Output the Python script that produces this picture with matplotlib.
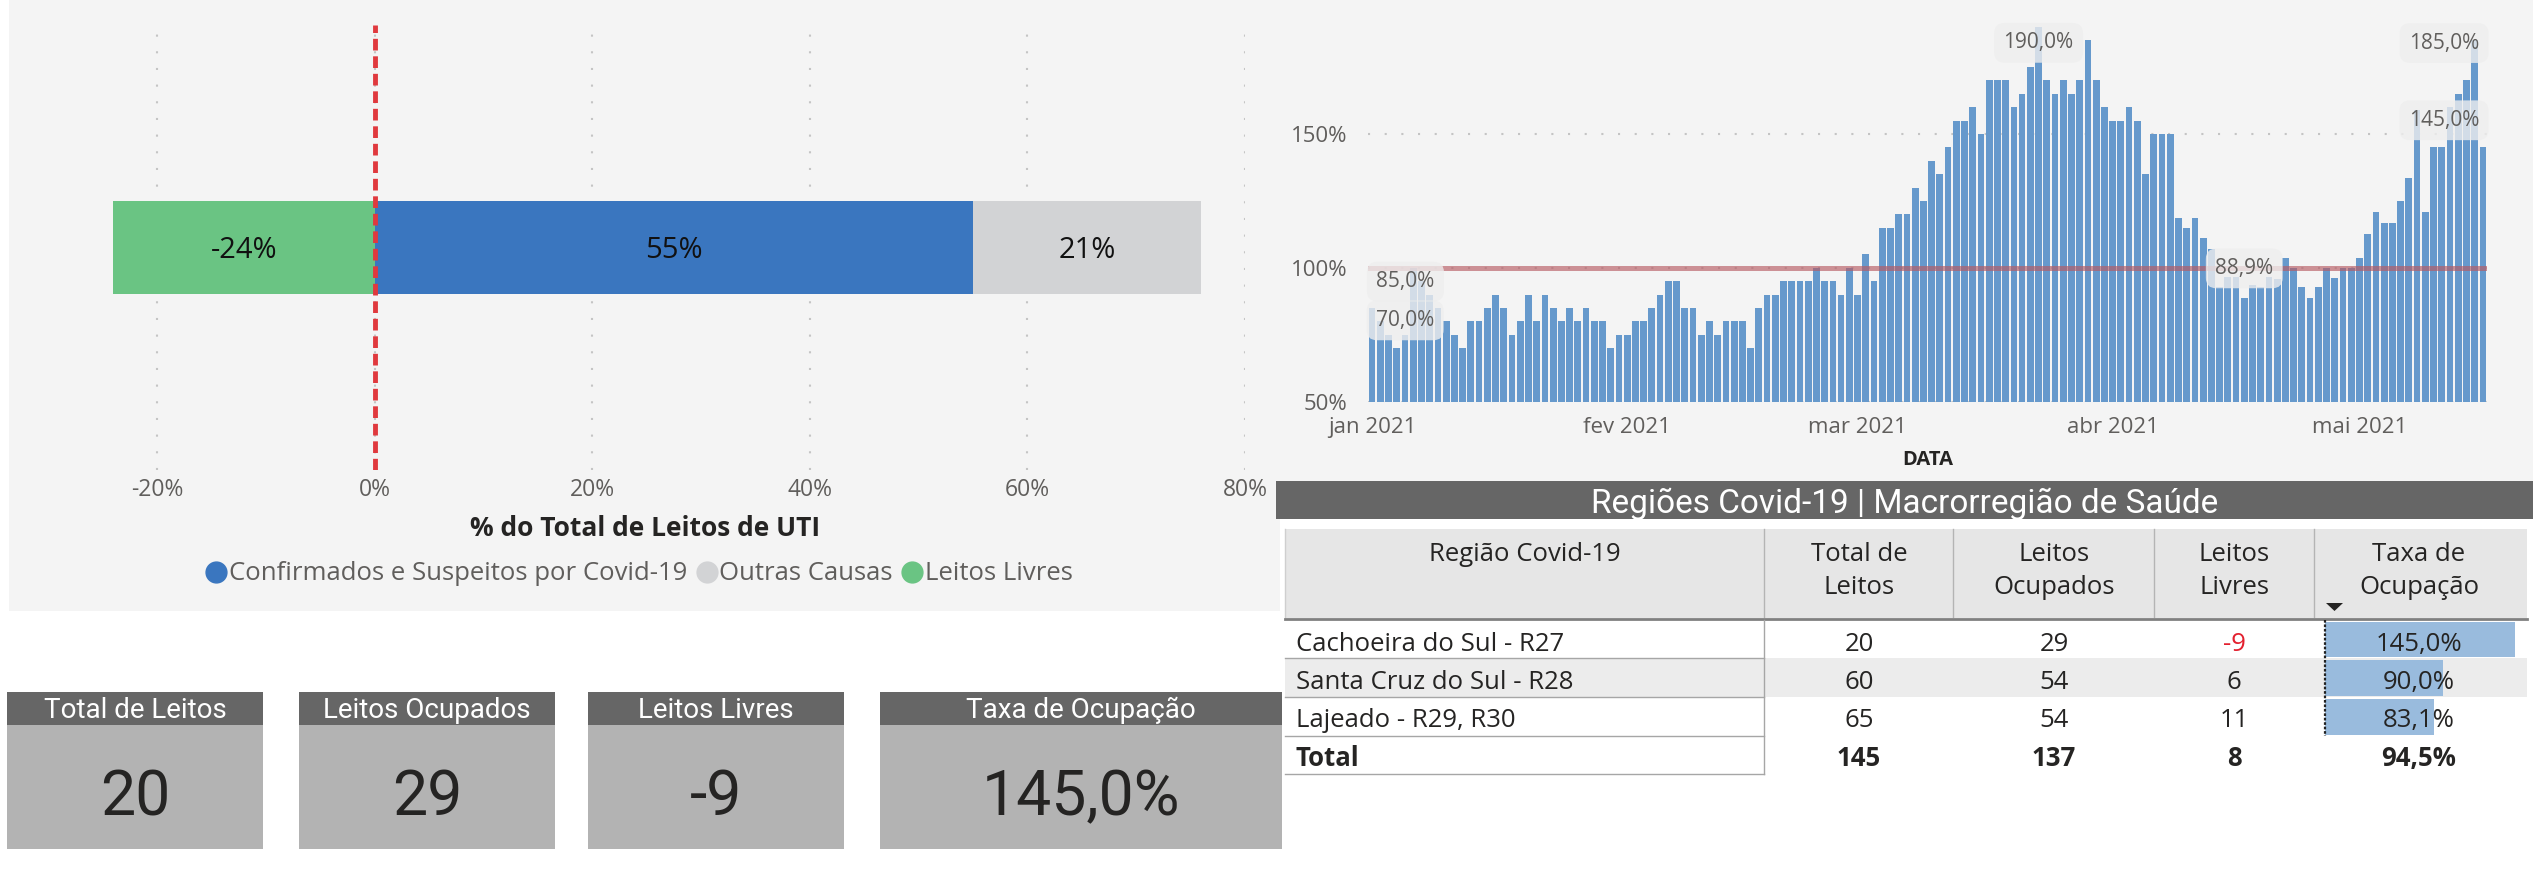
import matplotlib
matplotlib.use("Agg")
import matplotlib.pyplot as plt
import matplotlib.dates as mdates
from matplotlib.patches import Rectangle, Polygon
from matplotlib.lines import Line2D
from matplotlib.ticker import FuncFormatter
import pandas as pd

# ---- dados ----
# composição dos leitos de UTI (% do total)
comp_nomes = ["Confirmados e Suspeitos por Covid-19", "Outras Causas", "Leitos Livres"]
comp_valores = [55, 21, -24]
comp_cores = ["#3a76bf", "#d2d3d5", "#6ac483"]

# taxa de ocupação diária (%), a partir de 01/01/2021
taxa_inicio = "2021-01-01"
taxa_diaria = [
    85, 80, 75, 70, 75, 100, 95, 90, 85, 80, 75, 70, 80, 80, 85, 90, 85, 75, 80, 90,
    80, 90, 85, 80, 85, 80, 85, 80, 80, 70, 75, 75, 80, 80, 85, 90, 95, 95, 85, 85,
    75, 80, 75, 80, 80, 80, 70, 85, 90, 90, 95, 95, 95, 95, 100, 95, 95, 90, 100, 90,
    105, 95, 115, 115, 120, 120, 130, 125, 140, 135, 145, 155, 155, 160, 150, 170, 170, 170, 160, 165,
    175, 190, 170, 165, 170, 165, 170, 185, 170, 160, 155, 155, 160, 155, 135, 150, 150, 150, 118.6, 115,
    118.6, 111.1, 107, 92.8, 96.6, 96.6, 88.9, 93.5, 92.8, 96.6, 96, 103.5, 100, 92.8, 88.9, 92.8, 100, 96.3, 100, 100,
    103.8, 112.6, 120.9, 116.8, 116.8, 125, 133.6, 158.8, 120.9, 145, 145, 160, 165, 170, 185, 145,
]
rotulos_idx = [0, 3, 81, 106, 134, 135]
rotulos_off = [(24, 19), (6, 20), (0, -11.5), (0, 21), (-22, -2), (-28, 19.5)]
meses = ["jan", "fev", "mar", "abr", "mai", "jun", "jul", "ago", "set", "out", "nov", "dez"]

# tabela por região
regioes = ["Cachoeira do Sul - R27", "Santa Cruz do Sul - R28", "Lajeado - R29, R30"]
reg_total = [20, 60, 65]
reg_ocupados = [29, 54, 54]
reg_livres = [-9, 6, 11]
reg_taxa = [145.0, 90.0, 83.1]
cabecalhos = [["Região Covid-19"], ["Total de", "Leitos"], ["Leitos", "Ocupados"],
              ["Leitos", "Livres"], ["Taxa de", "Ocupação"]]

kpi_nomes = ["Total de Leitos", "Leitos Ocupados", "Leitos Livres", "Taxa de Ocupação"]


def pct(v):
    return f"{v:.1f}".replace(".", ",") + "%"


SEGOE = "Open Sans"
DIN = "Roboto"
TXT = "#252423"
TICK = "#605e5c"
PANEL = "#f4f4f4"

W, H = 2533, 869
fig = plt.figure(figsize=(W / 100, H / 100), dpi=100, facecolor="white")

# camada de fundo em pixels (origem no topo)
bg = fig.add_axes([0, 0, 1, 1], zorder=0)
bg.set_xlim(0, W)
bg.set_ylim(H, 0)
bg.axis("off")


def rect(x0, y0, x1, y1, color):
    bg.add_patch(Rectangle((x0, y0), x1 - x0, y1 - y0, facecolor=color, edgecolor="none"))


def px_axes(x0, y0, x1, y1):
    ax = fig.add_axes([x0 / W, 1 - y1 / H, (x1 - x0) / W, (y1 - y0) / H], zorder=1)
    ax.patch.set_alpha(0)
    for s in ax.spines.values():
        s.set_visible(False)
    return ax


rect(9, 0, 1280, 611, PANEL)
rect(1280, 0, W, 481, PANEL)

# ---- barra empilhada (% do total de leitos) ----
ax1 = px_axes(46, 25, 1245, 470)
covid, outras, livres = comp_valores
ax1.barh(0, covid, height=0.21, color=comp_cores[0], zorder=2)
ax1.barh(0, outras, left=covid, height=0.21, color=comp_cores[1], zorder=2)
ax1.barh(0, livres, height=0.21, color=comp_cores[2], zorder=2)
for xc, v in [(covid / 2, covid), (covid + outras / 2, outras), (livres / 2, livres)]:
    ax1.text(xc, 0, f"{v}%", ha="center", va="center_baseline", fontsize=21,
             color="#111111", family=SEGOE, zorder=4)
ax1.axvline(0, color="#e0393e", lw=3.5, ls=(0, (2.4, 1.2)), zorder=3)
ax1.set_xlim(-30.2, 80)
ax1.set_ylim(-0.5, 0.5)
ax1.set_xticks(range(-20, 81, 20))
ax1.set_xticklabels([f"{t}%" for t in range(-20, 81, 20)], family=SEGOE)
ax1.set_yticks([])
ax1.tick_params(axis="x", length=0, pad=6, labelsize=16.5, labelcolor=TICK)
ax1.grid(axis="x", ls=(0, (1, 7)), color="#c4c4c4", lw=1.5)
ax1.set_axisbelow(True)
ax1.set_xlabel("% do Total de Leitos de UTI", fontsize=19, fontweight="bold",
               color=TXT, family=SEGOE, labelpad=9)
handles = [Line2D([], [], marker="o", ls="", markersize=15, color=c) for c in comp_cores]
leg = ax1.legend(handles, comp_nomes, loc="center", bbox_to_anchor=(640 / W, 1 - 574 / H),
                 bbox_transform=fig.transFigure, ncol=3, frameon=False, handlelength=0.7,
                 handletextpad=0.15, columnspacing=0.4, prop={"family": SEGOE, "size": 18.5})
for t in leg.get_texts():
    t.set_color(TICK)

# ---- taxa de ocupação diária ----
ax2 = px_axes(1368, 13.5, 2487, 401.7)
datas = pd.date_range(taxa_inicio, periods=len(taxa_diaria), freq="D")
ax2.bar(datas, taxa_diaria, width=0.82, color="#6699cc", zorder=2)
ax2.axhline(100, color="#b75b63", alpha=0.65, lw=3.6, zorder=3)
ax2.set_xlim(datas[0] - pd.Timedelta(hours=12), datas[-1] + pd.Timedelta(hours=12))
ax2.set_ylim(50, 195)
ax2.set_yticks([50, 100, 150])
ax2.set_yticklabels([f"{t}%" for t in [50, 100, 150]], family=SEGOE)
ax2.xaxis.set_major_locator(mdates.MonthLocator())
ax2.xaxis.set_major_formatter(FuncFormatter(
    lambda x, pos: f"{meses[mdates.num2date(x).month - 1]} {mdates.num2date(x).year}"))
for lab in ax2.get_xticklabels():
    lab.set_family(SEGOE)
ax2.tick_params(axis="both", length=0, labelsize=16, labelcolor=TICK)
ax2.tick_params(axis="x", pad=11)
ax2.tick_params(axis="y", pad=15)
ax2.grid(axis="y", ls=(0, (1, 7)), color="#c4c4c4", lw=1.5)
ax2.set_axisbelow(True)
ax2.set_xlabel("DATA", fontsize=14.5, fontweight="bold", color=TXT, family=SEGOE, labelpad=9)
for i, (dx, dy) in zip(rotulos_idx, rotulos_off):
    ax2.annotate(pct(taxa_diaria[i]), xy=(datas[i], taxa_diaria[i]), xytext=(dx, dy),
                 textcoords="offset points", ha="center", va="center", fontsize=15,
                 color=TICK, family=SEGOE, zorder=5,
                 bbox=dict(boxstyle="round,pad=0.45,rounding_size=0.5", fc="#eeeeee",
                           ec="none", alpha=0.8))

# ---- tabela por região ----
rect(1276, 481, W, 519, "#666666")
bg.text(1905, 512.7, "Regiões Covid-19 | Macrorregião de Saúde", ha="center", va="baseline",
        fontsize=24, color="white", family=DIN)

tx0, tx1 = 1285, 2527
col_sep = [1764, 1953, 2154, 2314]
col_cx = [1525, 1859, 2054, 2234, 2419]
rect(tx0, 529, tx1, 618, "#e6e6e6")
for xs in col_sep:
    bg.plot([xs, xs], [529, 617], color="#b4b4b4", lw=1)
bg.plot([tx0, tx0], [529, 617], color="#cfcfcf", lw=1)
for cx, linhas in zip(col_cx, cabecalhos):
    for k, linha in enumerate(linhas):
        bg.text(cx, 561 + 33 * k, linha, ha="center", va="baseline", fontsize=18.5,
                color=TXT, family=SEGOE)
bg.add_patch(Polygon([(2326, 603), (2343, 603), (2334.5, 611)], closed=True,
                     facecolor="#252423", edgecolor="none"))

row_top = [620, 658, 697, 736]
row_bot = [658, 697, 736, 774]
row_base = [651, 689, 727, 766]
rect(tx0, row_top[1], tx1, row_bot[1], "#ececec")

bar_x0 = 2325
escala = 190 / 145.0  # px por ponto percentual
for r, (nome, tot, ocu, liv, tx) in enumerate(zip(regioes, reg_total, reg_ocupados,
                                                   reg_livres, reg_taxa)):
    bg.add_patch(Rectangle((bar_x0, row_top[r] + 2), tx * escala, row_bot[r] - row_top[r] - 3,
                           facecolor="#99bbdd", edgecolor="none"))
    yb = row_base[r]
    bg.text(1296, yb, nome, ha="left", va="baseline", fontsize=18.5, color=TXT, family=SEGOE)
    bg.text(col_cx[1], yb, str(tot), ha="center", va="baseline", fontsize=18.5, color=TXT,
            family=SEGOE)
    bg.text(col_cx[2], yb, str(ocu), ha="center", va="baseline", fontsize=18.5, color=TXT,
            family=SEGOE)
    bg.text(col_cx[3], yb, str(liv), ha="center", va="baseline", fontsize=18.5,
            color="#e3202e" if liv < 0 else TXT, family=SEGOE)
    bg.text(col_cx[4], yb, pct(tx), ha="center", va="baseline", fontsize=18.5, color=TXT,
            family=SEGOE)

tot_total = sum(reg_total)
tot_ocup = sum(reg_ocupados)
tot_livres = sum(reg_livres)
tot_taxa = 100.0 * tot_ocup / tot_total
yb = row_base[3]
for cx, s, ha in [(1296, "Total", "left"), (col_cx[1], str(tot_total), "center"),
                  (col_cx[2], str(tot_ocup), "center"), (col_cx[3], str(tot_livres), "center"),
                  (col_cx[4], pct(tot_taxa), "center")]:
    bg.text(cx, yb, s, ha=ha, va="baseline", fontsize=18.5, fontweight="bold", color=TXT,
            family=SEGOE)

# linhas da tabela
bg.plot([tx0, tx1], [618.5, 618.5], color="#808080", lw=2)
for y in row_bot:
    bg.plot([tx0, col_sep[0]], [y, y], color="#a6a6a6", lw=1)
bg.plot([col_sep[0], col_sep[0]], [620, 774], color="#a6a6a6", lw=1)
bg.plot([bar_x0, bar_x0], [620, 736], color="#222222", lw=1.6, ls=(0, (1.2, 0.8)))

# ---- cartões ----
cards_x = [(7, 263), (299, 555), (588, 844), (880, 1282)]
kpi_valores = [str(reg_total[0]), str(reg_ocupados[0]), str(reg_livres[0]), pct(reg_taxa[0])]
for (x0, x1), nome, val in zip(cards_x, kpi_nomes, kpi_valores):
    rect(x0, 692, x1, 725, "#666666")
    rect(x0, 725, x1, 849, "#b3b3b3")
    cx = (x0 + x1) / 2
    bg.text(cx, 718.3, nome, ha="center", va="baseline", fontsize=20, color="white", family=DIN)
    bg.text(cx, 815, val, ha="center", va="baseline", fontsize=45, color=TXT, family=DIN)

fig.savefig("out.png", dpi=100, facecolor="white")
